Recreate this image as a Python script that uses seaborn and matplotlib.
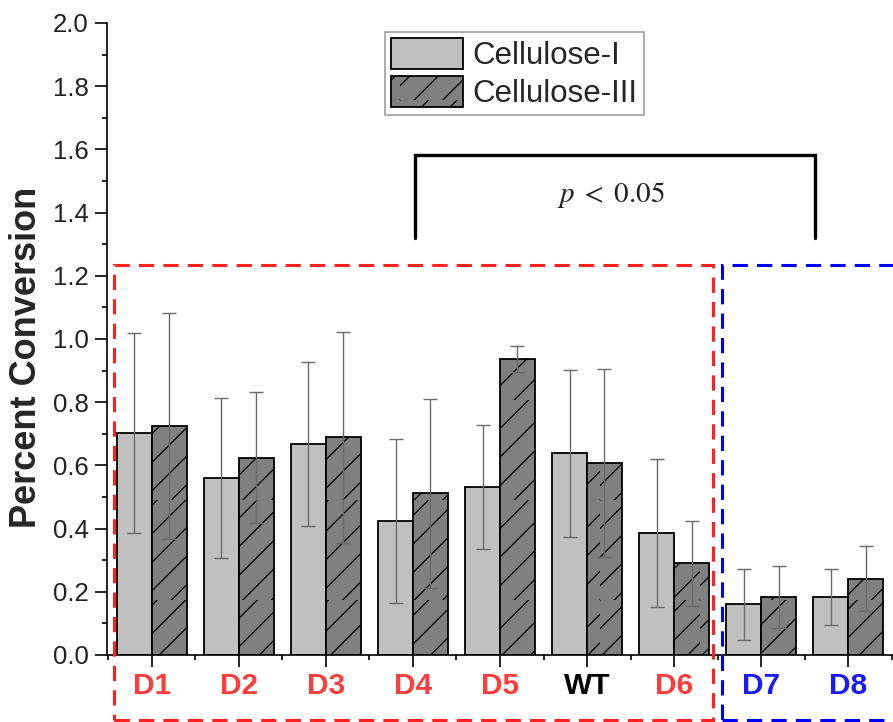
import numpy as np
import pandas as pd
import matplotlib
matplotlib.use("Agg")
import matplotlib.pyplot as plt
import seaborn as sns
from matplotlib.patches import Rectangle
from matplotlib.ticker import MultipleLocator, FixedLocator
from matplotlib.backend_bases import GraphicsContextBase

# --- data ---
samples = ["D1", "D2", "D3", "D4", "D5", "WT", "D6", "D7", "D8"]
series = ["Cellulose-I", "Cellulose-III"]
cell1 = [0.703, 0.560, 0.668, 0.425, 0.533, 0.638, 0.387, 0.160, 0.184]
cell1_err = [0.316, 0.253, 0.260, 0.260, 0.196, 0.265, 0.234, 0.112, 0.089]
cell3 = [0.725, 0.625, 0.689, 0.512, 0.937, 0.607, 0.290, 0.184, 0.242]
cell3_err = [0.358, 0.206, 0.333, 0.299, 0.040, 0.297, 0.134, 0.099, 0.104]
label_colors = ["#ff3b3b"] * 5 + ["black"] + ["#ff3b3b"] + ["#1a1aff"] * 2
p_text = r"$p\; <\; 0.05$"

# hatch density tweak
_orig_hp = GraphicsContextBase.get_hatch_path
def _hp(self, density=7.0):
    return _orig_hp(self, density)
GraphicsContextBase.get_hatch_path = _hp

sns.set_theme(style="ticks")
plt.rcParams["font.family"] = ["Liberation Sans", "DejaVu Sans"]
plt.rcParams["hatch.linewidth"] = 0.9

df = pd.DataFrame({
    "Sample": samples * 2,
    "Type": [series[0]] * len(samples) + [series[1]] * len(samples),
    "Value": cell1 + cell3,
})

fig = plt.figure(figsize=(8.93, 7.22), dpi=100)
ax = fig.add_axes([107 / 893, 67 / 722, 786 / 893, 632 / 722])

sns.barplot(data=df, x="Sample", y="Value", hue="Type", order=samples,
            hue_order=series, palette=["#c0c0c0", "#808080"], errorbar=None,
            width=0.8, edgecolor="black", linewidth=1.3, saturation=1,
            legend=False, ax=ax)

for p in ax.containers[1]:
    p.set_hatch("/")
    p.set_edgecolor("black")

for cont, vals, errs in [(ax.containers[0], cell1, cell1_err),
                          (ax.containers[1], cell3, cell3_err)]:
    xs = [p.get_x() + p.get_width() / 2 for p in cont]
    ax.errorbar(xs, vals, yerr=errs, fmt="none", ecolor="#6a6a6a",
                elinewidth=1.0, capsize=4.7, capthick=1.0, zorder=5)

ax.set_xlim(-0.513, 8.513)
ax.set_ylim(0, 2.0)
ax.yaxis.set_minor_locator(MultipleLocator(0.1))
ax.set_yticks(np.round(np.arange(0, 2.01, 0.2), 1))
ax.set_yticklabels([f"{v:.1f}" for v in np.arange(0, 2.01, 0.2)])
ax.xaxis.set_minor_locator(FixedLocator(np.arange(-0.5, 9.0, 1.0)))

ax.tick_params(axis="both", which="major", direction="out", length=8.4,
               width=1.2, color="black")
ax.tick_params(axis="both", which="minor", direction="out", length=3.4,
               width=1.2, color="black")
ax.tick_params(axis="y", which="major", labelsize=18.5, pad=5, labelcolor="#222222")
ax.tick_params(axis="x", which="major", labelsize=21.5, pad=4)
for lab, c in zip(ax.get_xticklabels(), label_colors):
    lab.set_color(c)
    lab.set_fontweight("bold")

for s in ["top", "right"]:
    ax.spines[s].set_visible(False)
for s in ["left", "bottom"]:
    ax.spines[s].set_linewidth(1.2)
    ax.spines[s].set_color("black")

ax.set_xlabel("")
ax.set_ylabel("Percent Conversion", fontsize=26, fontweight="bold")
ax.yaxis.set_label_coords(-0.080, 0.4707)

# legend
leg = ax.legend(handles=[ax.containers[0], ax.containers[1]], labels=series,
                loc="upper left", bbox_to_anchor=(0.3537, 0.9858),
                borderaxespad=0, fontsize=22.5, frameon=True, fancybox=False,
                handlelength=2.3, handleheight=1.14, handletextpad=0.3,
                labelspacing=0.15, borderpad=0.2)
leg.get_frame().set_edgecolor("#888888")
leg.get_frame().set_linewidth(1.2)

# dashed group boxes
ax.add_patch(Rectangle((-0.43, -0.205), 6.45 + 0.43, 1.235 + 0.205,
                       fill=False, edgecolor="#ff2020", linewidth=2.2,
                       linestyle=(0, (5, 3)), clip_on=False, zorder=6))
ax.add_patch(Rectangle((6.55, -0.205), 3.0, 1.235 + 0.205,
                       fill=False, edgecolor="#0000ff", linewidth=2.2,
                       linestyle=(0, (5, 3)), clip_on=False, zorder=6))

# significance bracket
ax.plot([3.024, 3.024, 7.617, 7.617], [1.320, 1.583, 1.583, 1.320],
        color="black", linewidth=2.4, solid_joinstyle="miter", zorder=6)
ax.text(5.28, 1.456, p_text, ha="center", va="center", fontsize=21,
        math_fontfamily="stix", color="#222222")

fig.savefig("out.png", dpi=100)
